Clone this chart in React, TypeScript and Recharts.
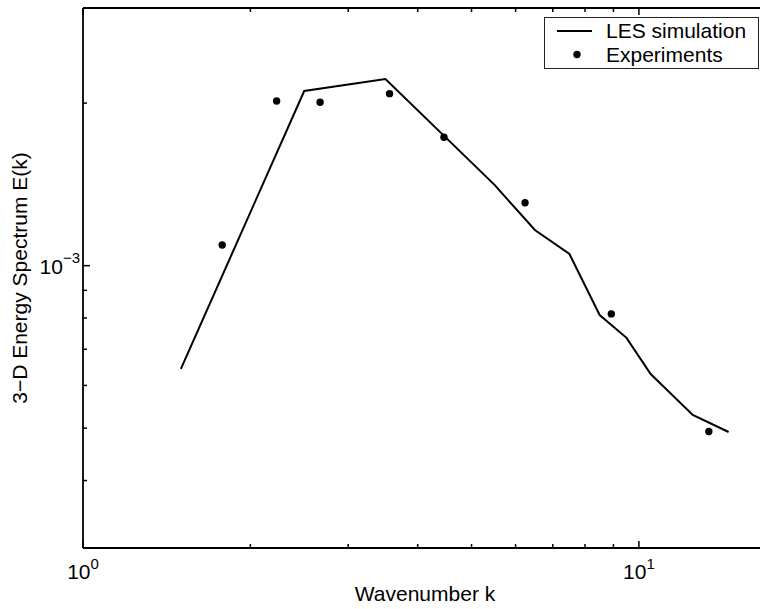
import React from 'react';
import { ComposedChart, Line, Scatter, XAxis, YAxis, Legend, Label } from 'recharts';

const FONT = '"Liberation Sans", Arial, Helvetica, sans-serif';

// LES simulation (solid line)
const lesK = [1.5, 2.5, 3.5, 5.5, 6.5, 7.5, 8.5, 9.5, 10.5, 12.5, 14.5];
const lesE = [6.44e-4, 2.106e-3, 2.216e-3, 1.411e-3, 1.164e-3, 1.051e-3, 8.1e-4, 7.35e-4, 6.3e-4, 5.29e-4, 4.92e-4];

// Experiments (dots)
const expK = [1.78, 2.23, 2.67, 3.56, 4.46, 6.24, 8.92, 13.36];
const expE = [1.092e-3, 2.018e-3, 2.007e-3, 2.082e-3, 1.729e-3, 1.308e-3, 8.14e-4, 4.93e-4];

// axis ticks
const xTicks = [1, 2, 3, 4, 5, 6, 7, 8, 9, 10];
const xMajor: Record<number, string> = { 1: '0', 10: '1' };
const yTicks = [4e-4, 5e-4, 6e-4, 7e-4, 8e-4, 9e-4, 1e-3, 2e-3];
const yMajorValue = 1e-3;
const yMajorExp = '\u22123';

const xDomain = [1, 17];
const yDomain = [3e-4, 3e-3];

const lesData = lesK.map((k, i) => ({ k, E: lesE[i] }));
const expData = expK.map((k, i) => ({ k, E: expE[i] }));

const AXIS_W = 1.8;

function BottomTick(props: any) {
  const { x, y, payload } = props;
  const sup = xMajor[payload.value];
  const len = sup !== undefined ? 7 : 4;
  return (
    <g>
      <line x1={x} x2={x} y1={y} y2={y - len} stroke="#000" strokeWidth={1.5} />
      {sup !== undefined && (
        <text x={x} y={y + 31} textAnchor="middle" fontFamily={FONT} fontSize={21} fill="#000">
          <tspan>10</tspan>
          <tspan dy={-10} fontSize={15}>{sup}</tspan>
        </text>
      )}
    </g>
  );
}

function TopTick(props: any) {
  const { x, y, payload } = props;
  const major = xMajor[payload.value] !== undefined;
  const len = major ? 7 : 4;
  return <line x1={x} x2={x} y1={y} y2={y + len} stroke="#000" strokeWidth={1.5} />;
}

function LeftTick(props: any) {
  const { x, y, payload } = props;
  const major = Math.abs(payload.value - yMajorValue) < 1e-12;
  const len = major ? 7 : 4;
  return (
    <g>
      <line x1={x} x2={x + len} y1={y} y2={y} stroke="#000" strokeWidth={1.5} />
      {major && (
        <text x={x - 3} y={y + 8} textAnchor="end" fontFamily={FONT} fontSize={21} fill="#000">
          <tspan>10</tspan>
          <tspan dy={-11} fontSize={15}>{yMajorExp}</tspan>
        </text>
      )}
    </g>
  );
}

function DotShape(props: any) {
  const { cx, cy } = props;
  if (cx == null || cy == null) return null;
  return <circle cx={cx} cy={cy} r={3.7} fill="#000" />;
}

function LegendBox() {
  return (
    <div
      style={{
        width: 215,
        height: 52,
        boxSizing: 'border-box',
        border: '1px solid #222',
        background: '#fff',
      }}
    >
      <svg width={213} height={50} style={{ display: 'block' }}>
        <line x1={12} x2={47} y1={13} y2={13} stroke="#000" strokeWidth={2} />
        <text x={61} y={19.5} fontFamily={FONT} fontSize={21} fill="#000">LES simulation</text>
        <circle cx={32} cy={36.5} r={3.7} fill="#000" />
        <text x={61} y={44} fontFamily={FONT} fontSize={21} fill="#000">Experiments</text>
      </svg>
    </div>
  );
}

export default function App() {
  return (
    <div style={{ position: 'absolute', left: 0, top: 0, width: 760, height: 609, overflow: 'hidden', background: '#fff' }}>
      <ComposedChart width={780} height={609} margin={{ top: 0, right: 13, bottom: 0, left: 0 }}>
        <XAxis
          dataKey="k"
          type="number"
          scale="log"
          domain={xDomain}
          allowDataOverflow
          ticks={xTicks}
          interval={0}
          tickSize={0}
          tickMargin={0}
          tickLine={false}
          tick={<BottomTick />}
          axisLine={{ stroke: '#000', strokeWidth: AXIS_W }}
          height={61}
        >
          <Label
            content={(p: any) => {
              const vb = p.viewBox || { x: 83, y: 548, width: 684 };
              return (
                <text x={vb.x + vb.width / 2} y={vb.y + 53} textAnchor="middle" fontFamily={FONT} fontSize={21} fill="#000">
                  Wavenumber k
                </text>
              );
            }}
          />
        </XAxis>
        <XAxis
          xAxisId="top"
          orientation="top"
          dataKey="k"
          type="number"
          scale="log"
          domain={xDomain}
          allowDataOverflow
          ticks={xTicks}
          interval={0}
          tickSize={0}
          tickMargin={0}
          tickLine={false}
          tick={<TopTick />}
          axisLine={{ stroke: '#000', strokeWidth: AXIS_W }}
          height={8}
        />
        <YAxis
          type="number"
          scale="log"
          domain={yDomain}
          allowDataOverflow
          ticks={yTicks}
          interval={0}
          tickSize={0}
          tickMargin={0}
          tickLine={false}
          tick={<LeftTick />}
          axisLine={{ stroke: '#000', strokeWidth: AXIS_W }}
          width={83}
        >
          <Label
            content={(p: any) => {
              const vb = p.viewBox || { x: 0, y: 8, width: 83, height: 540 };
              const cy = vb.y + vb.height / 2;
              return (
                <text
                  x={27}
                  y={cy}
                  transform={`rotate(-90, 27, ${cy})`}
                  textAnchor="middle"
                  fontFamily={FONT}
                  fontSize={21}
                  fill="#000"
                >
                  3{'\u2212'}D Energy Spectrum E(k)
                </text>
              );
            }}
          />
        </YAxis>
        <Line
          data={lesData}
          dataKey="E"
          type="linear"
          stroke="#000"
          strokeWidth={2}
          dot={false}
          activeDot={false}
          isAnimationActive={false}
          name="LES simulation"
        />
        <Scatter
          data={expData}
          dataKey="E"
          fill="#000"
          shape={<DotShape />}
          isAnimationActive={false}
          name="Experiments"
        />
        <Legend
          layout="vertical"
          align="center"
          verticalAlign="middle"
          wrapperStyle={{ position: 'absolute', left: 544, top: 17, width: 215, height: 52 }}
          content={() => <LegendBox />}
        />
      </ComposedChart>
    </div>
  );
}
